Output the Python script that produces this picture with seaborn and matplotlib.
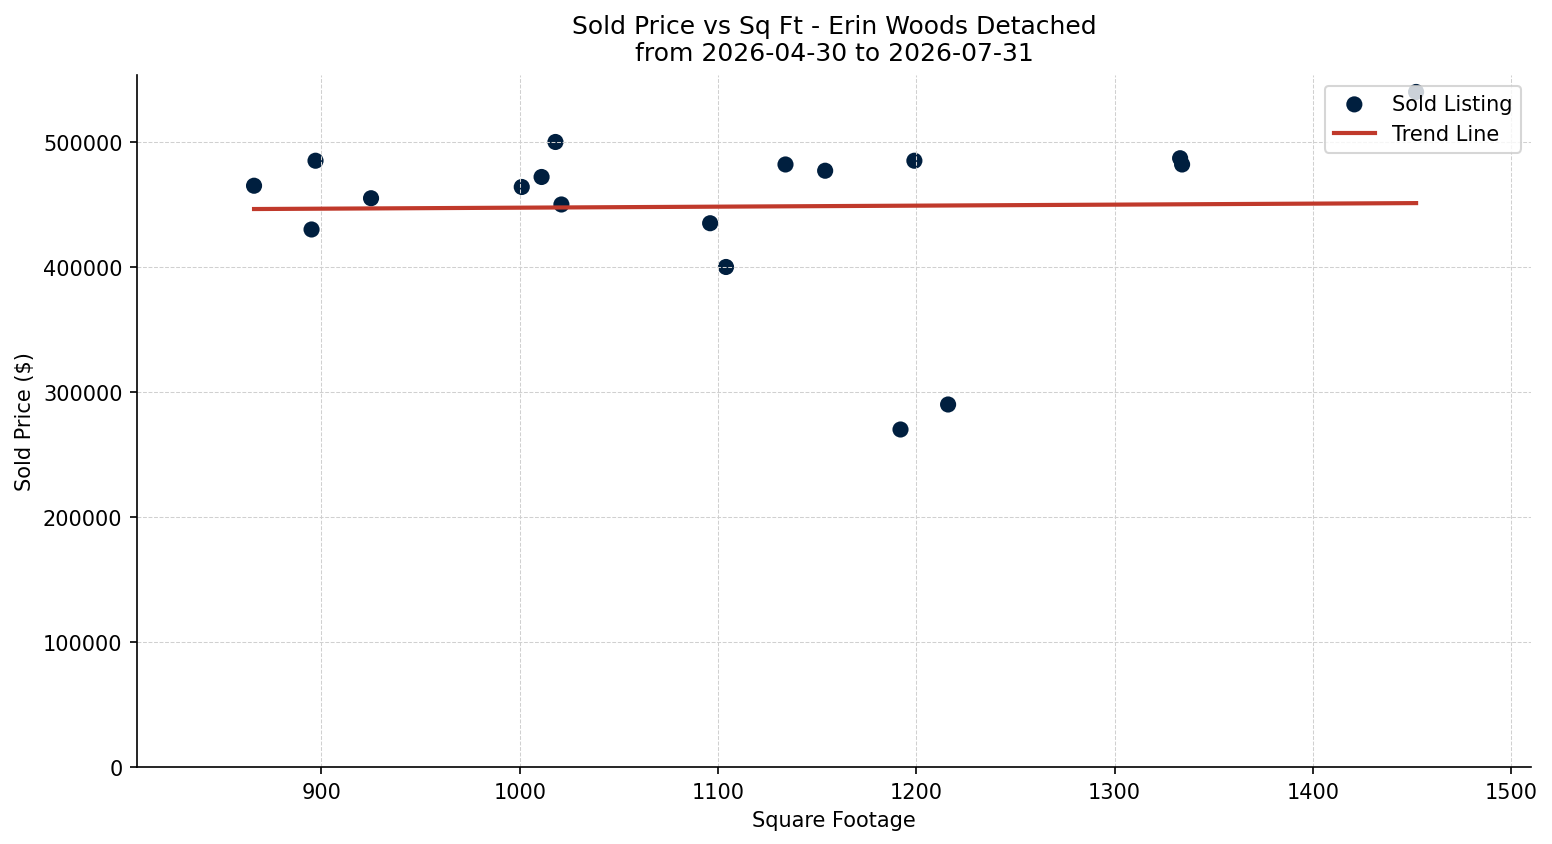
import numpy as np
import pandas as pd
import matplotlib
matplotlib.use('Agg')
import matplotlib.pyplot as plt
import seaborn as sns

# values
sqft = [866, 897, 895, 925, 1001, 1011, 1018, 1021, 1096, 1104,
        1134, 1154, 1199, 1192, 1216, 1333, 1334, 1452]
sold_price = [465000, 485000, 430000, 455000, 464000, 472000, 500000, 450000, 435000, 400000,
              482000, 477000, 485000, 270000, 290000, 487000, 482000, 540000]

title = 'Sold Price vs Sq Ft - Erin Woods Detached\nfrom 2026-04-30 to 2026-07-31'

df = pd.DataFrame({'sqft': sqft, 'price': sold_price})

fig = plt.figure(figsize=(10.347, 5.633), dpi=150)
ax = fig.add_axes([0.0883, 0.0911, 0.8982, 0.8189])

sns.scatterplot(data=df, x='sqft', y='price', ax=ax, color='#001f3f', s=60,
                edgecolor='none', label='Sold Listing', zorder=1)

# trend line (least squares fit)
slope, intercept = np.polyfit(df['sqft'], df['price'], 1)
xs = np.array([df['sqft'].min(), df['sqft'].max()])
ax.plot(xs, slope * xs + intercept, color='#c0392b', linewidth=2, label='Trend Line')

ax.set_xlim(807, 1510)
ax.set_ylim(0, max(sold_price) * 1.025)
ax.set_title(title, fontsize=12, pad=7)
ax.set_xlabel('Square Footage')
ax.set_ylabel('Sold Price ($)')
ax.grid(True, linestyle='--', linewidth=0.5, color='#d0d0d0')
ax.legend(loc='upper right')
sns.despine(ax=ax)

fig.savefig('out.png', dpi=150)
